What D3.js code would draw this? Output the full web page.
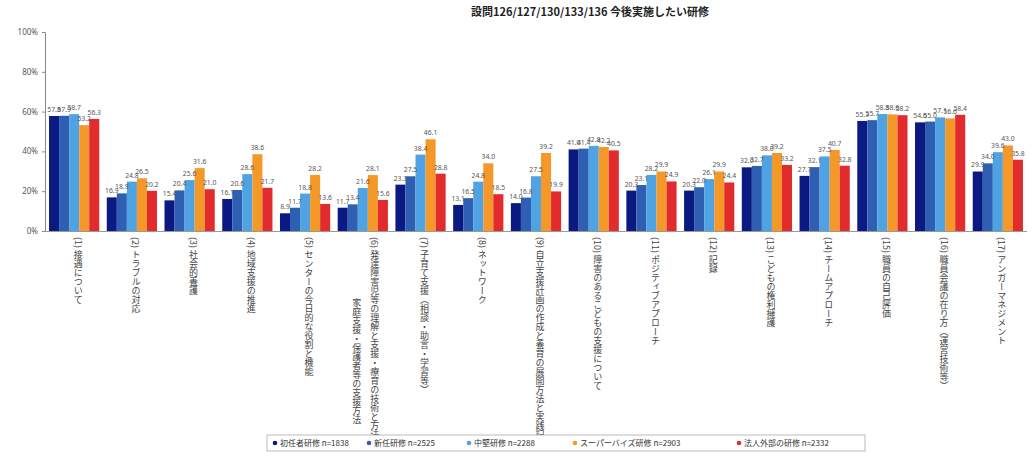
<!DOCTYPE html>
<html><head><meta charset="utf-8">
<script src="https://cdn.jsdelivr.net/npm/d3@7"></script>
<style>
body{margin:0;background:#fff;}
svg{font-family:"Noto Sans CJK JP","Noto Sans",sans-serif;}
</style></head>
<body><svg id="c" width="1034" height="468"></svg>
<script>
const title = "設問126/127/130/133/136 今後実施したい研修";
const categories = [
  "(1) 接遇について",
  "(2) トラブルの対応",
  "(3) 社会的養護",
  "(4) 地域支援の推進",
  "(5) センターの今日的な役割と機能",
  "(6) 発達障害児等の理解と支援・療育の技術と方法|家庭支援・保護者等の支援方法",
  "(7) 子育て支援（相談・助言・学習等）",
  "(8) ネットワーク",
  "(9) 自立支援計画の作成と養育の展開方法と実践記録",
  "(10) 障害のあるこどもの支援について",
  "(11) ポジティブアプローチ",
  "(12) 記録",
  "(13) こどもの権利擁護",
  "(14) チームアプローチ",
  "(15) 職員の自己評価",
  "(16) 職員会議の在り方（運営技術等）",
  "(17) アンガーマネジメント"
];
const seriesNames = ["初任者研修 n=1838","新任研修 n=2525","中堅研修 n=2288","スーパーバイズ研修 n=2903","法人外部の研修 n=2332"];
const s1 = [57.8,16.9,15.4,16.1,8.9,11.7,23.3,13.1,14.0,41.0,20.3,20.3,32.0,27.7,55.3,54.6,29.9];
const s2 = [57.9,18.9,20.4,20.6,11.7,13.4,27.5,16.5,16.8,41.4,23.1,22.0,32.7,32.1,55.7,55.0,34.0];
const s3 = [58.7,24.8,25.6,28.6,18.8,21.6,38.4,24.8,27.5,42.8,28.2,26.1,38.0,37.5,58.8,57.1,39.6];
const s4 = [53.2,26.5,31.6,38.6,28.2,28.1,46.1,34.0,39.2,42.2,29.9,29.9,39.2,40.7,58.6,56.6,43.0];
const s5 = [56.3,20.2,21.0,21.7,13.6,15.6,28.8,18.5,19.9,40.5,24.9,24.4,33.2,32.8,58.2,58.4,35.8];
const seriesValues = [s1,s2,s3,s4,s5];
const yTicks = [0,20,40,60,80,100];
const colors = ["#0b1a82","#2f5fb3","#4fa3e2","#f5982a","#e22b2d"];

const svg = d3.select("#c");
const x0 = d3.scaleBand().domain(categories).range([45,1027]).paddingInner(0.13).paddingOuter(0.07);
const x1 = d3.scaleBand().domain(d3.range(seriesNames.length)).range([0,x0.bandwidth()]);
const y = d3.scaleLinear().domain([0,100]).range([231,32]);

svg.append("text").attr("x",590).attr("y",16).attr("text-anchor","middle")
  .attr("font-size",11).attr("font-weight","bold").attr("fill","#222").text(title);

// y axis
const ya = svg.append("g").attr("transform","translate(45,0)")
  .call(d3.axisLeft(y).tickValues(yTicks).tickFormat(d=>d+"%").tickSize(3).tickPadding(4));
ya.select(".domain").attr("stroke","#888");
ya.selectAll(".tick line").attr("stroke","#888");
ya.selectAll("text").attr("font-size",8).attr("fill","#555").attr("font-family","Noto Sans, sans-serif");

// baseline
svg.append("line").attr("x1",45).attr("x2",1027).attr("y1",231.5).attr("y2",231.5).attr("stroke","#999");

// bars
const g = svg.selectAll("g.grp").data(categories).join("g").attr("class","grp")
  .attr("transform",d=>`translate(${x0(d)},0)`);
g.selectAll("rect").data((d,i)=>seriesValues.map((s,k)=>({k,v:s[i]}))).join("rect")
  .attr("x",d=>x1(d.k)).attr("width",x1.bandwidth()).attr("y",d=>y(d.v)).attr("height",d=>y(0)-y(d.v))
  .attr("fill",d=>colors[d.k]);
g.selectAll("text.v").data((d,i)=>seriesValues.map((s,k)=>({k,v:s[i]}))).join("text").attr("class","v")
  .attr("x",d=>x1(d.k)+x1.bandwidth()/2).attr("y",d=>y(d.v)-4).attr("text-anchor","middle")
  .attr("font-size",6.8).attr("fill","#555").attr("font-family","Noto Sans, sans-serif").text(d=>d.v.toFixed(1));

// category labels (vertical)
categories.forEach(c=>{
  const parts = c.split("|");
  const cx = x0(c)+x0.bandwidth()/2;
  if(parts.length===1){
    svg.append("text").attr("x",cx+4).attr("y",237).style("writing-mode","vertical-rl")
      .attr("font-size",9).attr("fill","#444").text(parts[0]);
  } else {
    svg.append("text").attr("x",cx+12).attr("y",237).style("writing-mode","vertical-rl")
      .attr("font-size",9).attr("fill","#444").text(parts[0]);
    svg.append("text").attr("x",cx-6).attr("y",424).attr("text-anchor","end").style("writing-mode","vertical-rl")
      .attr("font-size",9).attr("fill","#444").text(parts[1]);
  }
});

// legend
const lg = svg.append("g");
lg.append("rect").attr("x",267).attr("y",435).attr("width",598).attr("height",16)
  .attr("fill","#fff").attr("stroke","#aaa").attr("stroke-width",0.8);
const legX = [272,366,466,572,736];
seriesNames.forEach((n,k)=>{
  lg.append("circle").attr("cx",legX[k]+3).attr("cy",443).attr("r",2.3).attr("fill",colors[k]);
  lg.append("text").attr("x",legX[k]+8).attr("y",446).attr("font-size",8).attr("fill","#333").text(n);
});
</script></body></html>
